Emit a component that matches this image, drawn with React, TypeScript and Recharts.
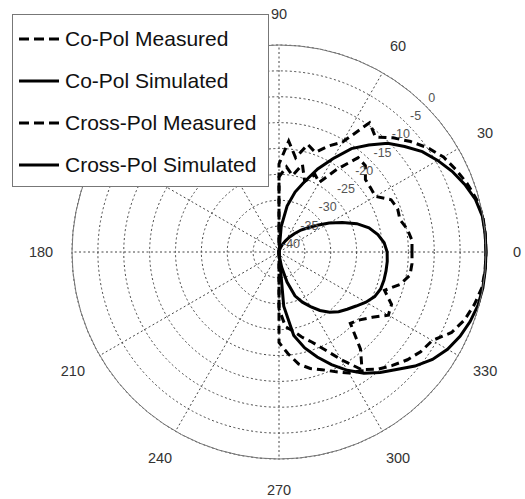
import {
  RadarChart,
  Radar,
  PolarGrid,
  PolarAngleAxis,
  PolarRadiusAxis,
  Legend,
} from "recharts"

// angle in degrees, counter-clockwise from 0 (right)
const angles = [
  0, 5, 10, 15, 20, 25, 30, 35, 40, 45, 50, 55,
  60, 65, 70, 75, 80, 85, 90, 95, 100, 105, 110, 115,
  120, 125, 130, 135, 140, 145, 150, 155, 160, 165, 170, 175,
  180, 185, 190, 195, 200, 205, 210, 215, 220, 225, 230, 235,
  240, 245, 250, 255, 260, 265, 270, 275, 280, 285, 290, 295,
  300, 305, 310, 315, 320, 325, 330, 335, 340, 345, 350, 355,
]

// gain in dB, -40 = centre
const coPolMeasured = [
  0, 0, 0, -0.5, -1.3, -2.3, -3.3, -4.9, -6.8, -8.8, -11, -9.5,
  -15.5, -17.4, -19.5, -18.5, -21.5, -18.5, -23, -40, -40, -40, -40, -40,
  -40, -40, -40, -40, -40, -40, -40, -40, -40, -40, -40, -40,
  -40, -40, -40, -40, -40, -40, -40, -40, -40, -40, -40, -40,
  -40, -40, -40, -40, -40, -40, -29, -25.5, -24.5, -23, -21.5, -19.2,
  -16, -12.3, -10.4, -9, -7.6, -6.5, -5.8, -3.2, -1.8, -0.9, -0.2, 0,
]

const coPolSimulated = [
  0, 0, -0.1, -0.7, -1.8, -3.1, -4.6, -6.2, -8.3, -10.3, -13, -15.6,
  -19.2, -22.3, -25.5, -28, -31, -35, -40, -40, -40, -40, -40, -40,
  -40, -40, -40, -40, -40, -40, -40, -40, -40, -40, -40, -40,
  -40, -40, -40, -40, -40, -40, -40, -40, -40, -40, -40, -40,
  -40, -40, -40, -40, -40, -40, -40, -29.5, -23.6, -20.8, -18.4, -16,
  -13.6, -11.4, -9.6, -7.9, -5.7, -3.8, -2.4, -1.4, -0.7, -0.2, 0, 0,
]

const crossPolMeasured = [
  -14.3, -14.2, -14.8, -15.8, -15.6, -16.1, -18.5, -18.4, -18.2, -16.4, -16.2, -20.5,
  -24.5, -23.5, -25.5, -22.5, -25, -23.5, -25.5, -40, -40, -40, -40, -40,
  -40, -40, -40, -40, -40, -40, -40, -40, -40, -40, -40, -40,
  -40, -40, -40, -40, -40, -40, -40, -40, -40, -40, -40, -40,
  -40, -40, -40, -40, -40, -40, -22.5, -20.3, -18, -16.7, -15.8, -14.5,
  -13, -12, -15.5, -20.5, -19.6, -18, -15.6, -16, -18.3, -15.8, -14.3, -14.2,
]

const crossPolSimulated = [
  -19.1, -19.6, -20.6, -22, -24, -26.5, -28.8, -31, -32.7, -34, -35.4, -36.5,
  -37.5, -38.3, -39, -39.5, -40, -40, -40, -40, -40, -40, -40, -40,
  -40, -40, -40, -40, -40, -40, -40, -40, -40, -40, -40, -40,
  -40, -40, -40, -40, -40, -40, -40, -40, -40, -40, -40, -40,
  -40, -40, -40, -40, -40, -40, -40, -39, -37, -34, -31, -29.3,
  -27.8, -26.2, -24.8, -23.7, -22.8, -21.8, -20.6, -19.6, -19.1, -19, -19, -19,
]

// spokes every 30 deg; 120 and 150 sit under the legend box
const gridAngles = [0, 30, 60, 90, 120, 150, 180, 210, 240, 270, 300, 330]
const angleLabels = [0, 30, 60, 90, 180, 210, 240, 270, 300, 330]

const series = [
  { key: "coMeas", name: "Co-Pol Measured", dash: "8 5" },
  { key: "coSim", name: "Co-Pol Simulated", dash: undefined },
  { key: "xMeas", name: "Cross-Pol Measured", dash: "8 5" },
  { key: "xSim", name: "Cross-Pol Simulated", dash: undefined },
]

const data = angles.map((angle, i) => ({
  angle,
  coMeas: coPolMeasured[i],
  coSim: coPolSimulated[i],
  xMeas: crossPolMeasured[i],
  xSim: crossPolSimulated[i],
}))

const FONT = '"Liberation Sans", Arial, sans-serif'

function AngleTick(props: any) {
  const { x, y, payload } = props
  return (
    <text x={x} y={y} textAnchor="middle" dominantBaseline="central"
      fontSize={14.5} fill="#333" fontFamily={FONT}>
      {payload.value}
    </text>
  )
}

function RadiusTick(props: any) {
  const { x, y, payload } = props
  return (
    <text x={x + 3} y={y - 4} textAnchor="start" fontSize={12.5} fill="#555" fontFamily={FONT}>
      {payload.value}
    </text>
  )
}

function LegendBox() {
  return (
    <div style={{
      width: 257, height: 173, boxSizing: "border-box", border: "1px solid #777",
      background: "#fff", paddingTop: 3, fontFamily: FONT,
    }}>
      {series.map((s) => (
        <div key={s.key} style={{ display: "flex", alignItems: "center", height: 42 }}>
          <svg width={46} height={10} style={{ marginLeft: 6 }}>
            <line x1={0} y1={5} x2={40} y2={5} stroke="#000" strokeWidth={3}
              strokeDasharray={s.dash ? "10 5" : undefined} />
          </svg>
          <span style={{ fontSize: 21, color: "#111", whiteSpace: "nowrap" }}>{s.name}</span>
        </div>
      ))}
    </div>
  )
}

export default function App() {
  return (
    <div style={{ position: "absolute", left: 0, top: 0, width: 525, height: 499, background: "#fff" }}>
      <RadarChart
        width={525}
        height={499}
        data={data}
        cx={279}
        cy={252}
        outerRadius={207}
        startAngle={0}
        endAngle={360}
        margin={{ top: 0, right: 0, bottom: 0, left: 0 }}
      >
        <PolarGrid gridType="circle" polarAngles={gridAngles} stroke="#444" strokeDasharray="2 2.5" />
        <PolarAngleAxis
          dataKey="angle"
          type="number"
          domain={[0, 360]}
          ticks={angleLabels}
          tickSize={31}
          tickLine={false}
          axisLineType="circle"
          axisLine={{ stroke: "#777", strokeWidth: 1 }}
          tick={<AngleTick />}
        />
        <PolarRadiusAxis
          angle={45}
          domain={[-40, 0]}
          tickCount={9}
          axisLine={false}
          tickLine={false}
          tick={<RadiusTick />}
        />
        {series.map((s) => (
          <Radar
            key={s.key}
            name={s.name}
            dataKey={s.key}
            stroke="#000"
            strokeWidth={3}
            strokeDasharray={s.dash}
            fill="none"
            fillOpacity={0}
            dot={false}
            isAnimationActive={false}
          />
        ))}
        <Legend
          layout="horizontal"
          align="center"
          verticalAlign="middle"
          wrapperStyle={{ left: 12, top: 14, width: 257, height: 173 }}
          content={<LegendBox />}
        />
      </RadarChart>
    </div>
  )
}
